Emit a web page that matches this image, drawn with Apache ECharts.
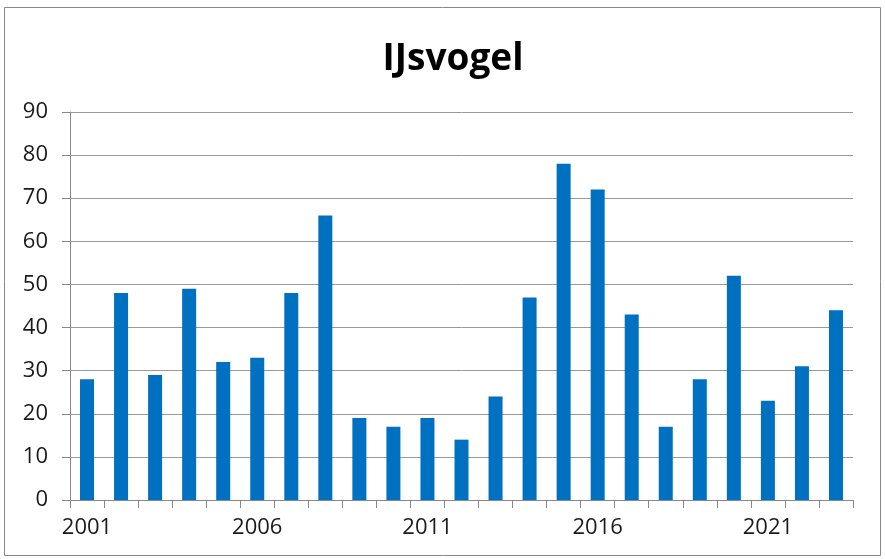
<!DOCTYPE html>
<html>
<head>
<meta charset="utf-8">
<script src="https://cdn.jsdelivr.net/npm/echarts@6/dist/echarts.min.js"></script>
<style>
  html, body { margin: 0; padding: 0; background: #fff; }
  #main { width: 885px; height: 559px; }
</style>
</head>
<body>
<div id="main"></div>
<script>
// jaren en aantallen
var years = ['2001', '2002', '2003', '2004', '2005', '2006', '2007', '2008', '2009', '2010', '2011', '2012',
             '2013', '2014', '2015', '2016', '2017', '2018', '2019', '2020', '2021', '2022', '2023'];
var counts = [28, 48, 29, 49, 32, 33, 48, 66, 19, 17, 19, 14, 24, 47, 78, 72, 43, 17, 28, 52, 23, 31, 44];

var chart = echarts.init(document.getElementById('main'));
var option = {
  animation: false,
  title: {
    text: 'IJsvogel',
    left: 448,
    textAlign: 'center',
    top: 36,
    textStyle: { fontFamily: 'Open Sans', fontWeight: 'bold', fontSize: 37, color: '#000' }
  },
  graphic: [{
    type: 'rect',
    shape: { x: 4.5, y: 7.5, width: 876, height: 548 },
    style: { fill: 'none', stroke: '#888', lineWidth: 1 }
  }],
  grid: { left: 70, right: 32, top: 112, bottom: 59 },
  xAxis: {
    type: 'category',
    data: years,
    axisLine: { lineStyle: { color: '#888' } },
    axisTick: { show: true, interval: 0, length: 8, lineStyle: { color: '#888' } },
    axisLabel: { interval: 4, color: '#1a1a1a', fontFamily: 'Open Sans', fontSize: 22, margin: 17 }
  },
  yAxis: {
    type: 'value',
    min: 0, max: 90, interval: 10,
    axisLine: { show: true, lineStyle: { color: '#888' } },
    axisTick: { show: true, length: 8, lineStyle: { color: '#888' } },
    splitLine: { lineStyle: { color: '#999' } },
    axisLabel: { color: '#1a1a1a', fontFamily: 'Open Sans', fontSize: 22, margin: 22 }
  },
  series: [{
    type: 'bar',
    data: counts,
    barWidth: 14,
    itemStyle: { color: '#0070C0' }
  }]
};
chart.setOption(option);
</script>
</body>
</html>
